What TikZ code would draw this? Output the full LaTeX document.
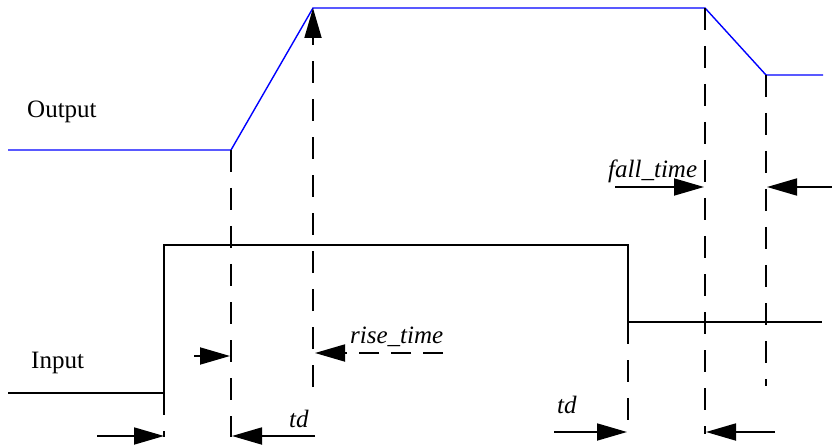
\documentclass[tikz,border=0pt]{standalone}
\usepackage{fontspec}
\setmainfont{Liberation Serif}
\usetikzlibrary{arrows.meta}
\definecolor{outblue}{HTML}{0000FF}
\tikzset{
  outwave/.style={outblue, line width=1.4pt},
  inwave/.style={black, line width=1.8pt},
  guide/.style={black, line width=1.8pt, dash pattern=on 22pt off 16pt},
  dimarrow/.style={black, line width=1.8pt, -{Triangle[length=30pt,width=17pt]}},
  lbl/.style={font=\fontsize{25}{29}\selectfont, inner sep=0pt, anchor=base west},
  lblit/.style={lbl, font=\fontsize{25}{29}\selectfont\itshape},
}

\begin{document}
\begin{tikzpicture}[x=1pt,y=-1pt]
\useasboundingbox (0,0) rectangle (832,446);
% output waveform
\coordinate (o0) at (8,150);  \coordinate (o1) at (231,150);
\coordinate (o2) at (313,8);  \coordinate (o3) at (705,8);
\coordinate (o4) at (766,75); \coordinate (o5) at (823,75);
\draw[outwave] (o0) -- (o1) -- (o2) -- (o3) -- (o4) -- (o5);
% input waveform
\coordinate (i0) at (8,393);    \coordinate (i1) at (164,393);
\coordinate (i2) at (164,245);  \coordinate (i3) at (628,245);
\coordinate (i4) at (628,322);  \coordinate (i5) at (822,322);
\draw[inwave] (i0) -- (i1) -- (i2) -- (i3) -- (i4) -- (i5);
% guide lines
\coordinate (g1) at (164,437); \coordinate (g2) at (231,437);
\coordinate (g3) at (313,387); \coordinate (g4) at (628,434);
\coordinate (g5) at (705,434); \coordinate (g6) at (766,386);
\draw[guide] (i1) -- (g1);
\draw[guide] (o1) -- (g2);
\draw[guide, dimarrow] (g3) -- (o2);
\draw[guide] (i4) -- (g4);
\draw[guide] (o3) -- (g5);
\draw[guide] (o4) -- (g6);
% delay and edge arrows
\coordinate (a1) at (97,436);  \coordinate (b1) at (164,436);
\coordinate (a2) at (315,436); \coordinate (b2) at (232,436);
\coordinate (a3) at (194,356); \coordinate (b3) at (230,356);
\coordinate (a4) at (443,353); \coordinate (b4) at (315,353);
\coordinate (a5) at (554,432); \coordinate (b5) at (627,432);
\coordinate (a6) at (775,432); \coordinate (b6) at (706,432);
\coordinate (a7) at (615,187); \coordinate (b7) at (704,187);
\coordinate (a8) at (832,187); \coordinate (b8) at (767,187);
\draw[dimarrow] (a1) -- (b1);
\draw[dimarrow] (a2) -- (b2);
\draw[dimarrow] (a3) -- (b3);
\draw[dimarrow, dash pattern=on 20pt off 12pt] (a4) -- (b4);
\draw[dimarrow] (a5) -- (b5);
\draw[dimarrow] (a6) -- (b6);
\draw[dimarrow] (a7) -- (b7);
\draw[dimarrow] (a8) -- (b8);
% labels
\node[lbl] (outlbl) at (27,118) {Output};
\node[lbl] (inlbl) at (31,368) {Input};
\node[lblit] (risetxt) at (350,343) {rise\_time};
\node[lblit] (falltxt) at (608,178) {fall\_time};
\node[lblit] (tdleft) at (289,427) {td};
\node[lblit] (tdright) at (557,413) {td};
\end{tikzpicture}
\end{document}
